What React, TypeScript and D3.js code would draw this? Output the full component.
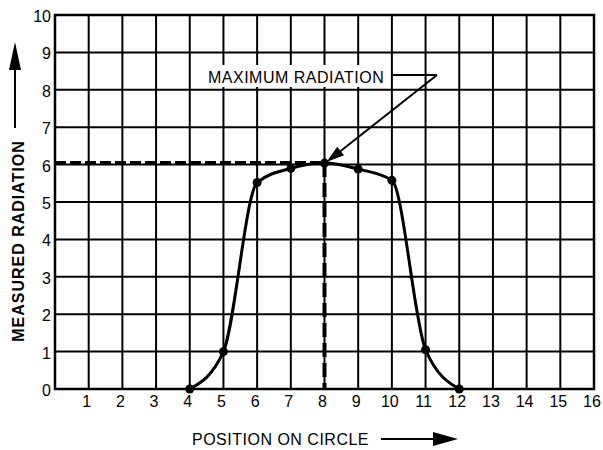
import React from "react";
import * as d3 from "d3";

const positions = [4, 5, 6, 7, 8, 9, 10, 11, 12];
const radiation = [0, 1, 5.52, 5.9, 6.04, 5.88, 5.58, 1.05, 0];
const xTicks = [1, 2, 3, 4, 5, 6, 7, 8, 9, 10, 11, 12, 13, 14, 15, 16];
const yTicks = [0, 1, 2, 3, 4, 5, 6, 7, 8, 9, 10];
const maxPos = 8;
const maxVal = 6.04;

const W = 603;
const H = 450;
const L = 55, R = 594, T = 15, B = 389;
const FONT = "'Liberation Sans', Arial, Helvetica, sans-serif";

export default function App() {
  const x = d3.scaleLinear().domain([0, 16]).range([L, R]);
  const y = d3.scaleLinear().domain([0, 10]).range([B, T]);
  const line = d3
    .line<number>()
    .x((_, i) => x(positions[i]))
    .y((d) => y(d))
    .curve(d3.curveMonotoneX);
  const pathD = line(radiation) || "";

  const tipX = x(maxPos) + 2, tipY = y(maxVal) - 1;
  const startX = 437, startY = 75;
  const ang = Math.atan2(tipY - startY, tipX - startX);
  const hl = 18, hw = 5.5;
  const bx = tipX - hl * Math.cos(ang), by = tipY - hl * Math.sin(ang);
  const px = -Math.sin(ang), py = Math.cos(ang);
  const head = `M${tipX},${tipY}L${bx + hw * px},${by + hw * py}L${bx - hw * px},${by - hw * py}Z`;

  return (
    <svg width={W} height={H} style={{ position: "absolute", left: 0, top: 0, background: "#fff" }}>
      <rect x={0} y={0} width={W} height={H} fill="#fff" />
      {/* grid */}
      <g stroke="#000" strokeWidth={2}>
        {d3.range(0, 17).map((v) => (
          <line key={"gx" + v} x1={x(v)} x2={x(v)} y1={T} y2={B} />
        ))}
        {d3.range(0, 11).map((v) => (
          <line key={"gy" + v} x1={L} x2={R} y1={y(v)} y2={y(v)} />
        ))}
      </g>
      <rect x={L} y={T} width={R - L} height={B - T} fill="none" stroke="#000" strokeWidth={2.5} />
      {/* tick labels */}
      <g fontFamily={FONT} fontSize={16} fill="#000">
        {xTicks.map((v) => (
          <text key={"xt" + v} x={x(v) - 2} y={407} textAnchor="middle">{v}</text>
        ))}
        {yTicks.map((v) => (
          <text key={"yt" + v} x={51} y={y(v) + 7} textAnchor="end">{v}</text>
        ))}
      </g>
      {/* dashed max lines */}
      <line x1={L} x2={x(maxPos)} y1={y(maxVal)} y2={y(maxVal)} stroke="#000" strokeWidth={4} strokeDasharray="11,4" />
      <line x1={x(maxPos)} x2={x(maxPos)} y1={y(maxVal)} y2={B} stroke="#000" strokeWidth={4} strokeDasharray="14,6" />
      {/* curve */}
      <path d={pathD} fill="none" stroke="#000" strokeWidth={3} />
      {positions.map((p, i) => (
        <circle key={"pt" + p} cx={x(p)} cy={y(radiation[i])} r={4.5} fill="#000" />
      ))}
      {/* annotation */}
      <rect x={203} y={65} width={186} height={22} fill="#fff" />
      <text x={208} y={83} fontFamily={FONT} fontSize={16} fill="#000" letterSpacing={0.5}>MAXIMUM RADIATION</text>
      <line x1={393} x2={startX} y1={startY} y2={startY} stroke="#000" strokeWidth={2} />
      <line x1={startX} y1={startY} x2={bx} y2={by} stroke="#000" strokeWidth={2} />
      <path d={head} fill="#000" />
      {/* x axis title */}
      <text x={192} y={445} fontFamily={FONT} fontSize={16} fill="#000" letterSpacing={0.5}>POSITION ON CIRCLE</text>
      <line x1={381} x2={440} y1={439} y2={439} stroke="#000" strokeWidth={2} />
      <path d="M458,439L433,432L433,446Z" fill="#000" />
      {/* y axis title */}
      <text
        transform={`translate(24,${(135 + 347) / 2}) rotate(-90)`}
        textAnchor="middle"
        fontFamily={FONT}
        fontSize={16}
        fontWeight="bold"
        fill="#000"
        letterSpacing={1}
      >
        MEASURED  RADIATION
      </text>
      <line x1={15} x2={15} y1={128} y2={62} stroke="#000" strokeWidth={2} />
      <path d="M15,42L9,70L21,70Z" fill="#000" />
    </svg>
  );
}
